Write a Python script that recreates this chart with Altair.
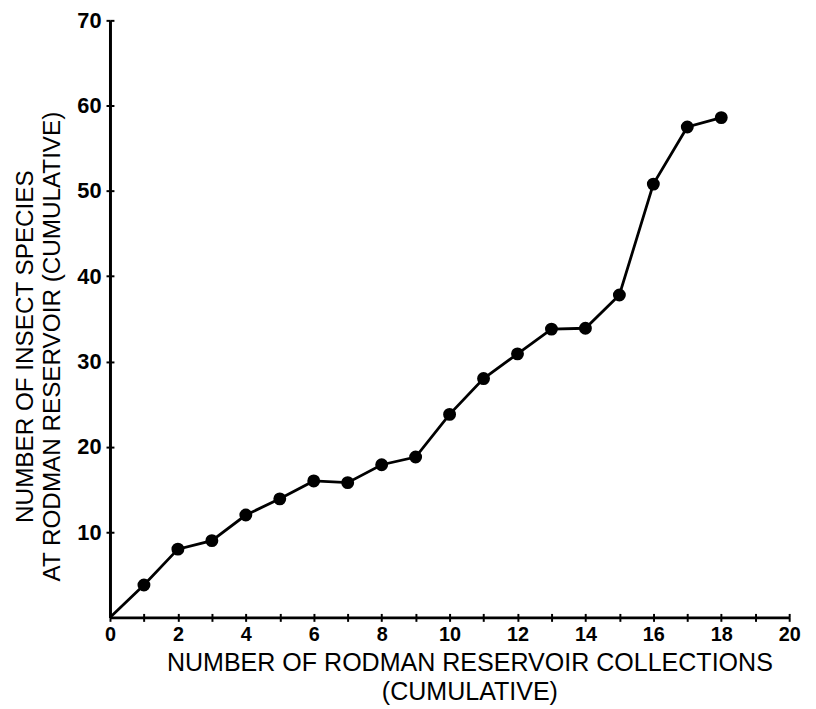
import altair as alt
import pandas as pd

# Cumulative collections (x) and cumulative insect species (y)
collections = [0, 1, 2, 3, 4, 5, 6, 7, 8, 9, 10, 11, 12, 13, 14, 15, 16, 17, 18]
species = [0, 3.8, 8.0, 9.0, 12.0, 13.9, 16.0, 15.8, 17.9, 18.8, 23.8, 28.0, 30.9, 33.8, 33.9, 37.8, 50.8, 57.5, 58.6]

x_ticks = list(range(0, 21))
y_ticks = [10, 20, 30, 40, 50, 60, 70]

x_title = ["NUMBER OF RODMAN RESERVOIR COLLECTIONS", "(CUMULATIVE)"]
y_title = ["NUMBER OF INSECT SPECIES", "AT RODMAN RESERVOIR (CUMULATIVE)"]

df = pd.DataFrame({"x": collections, "y": species})
pts = df[df["x"] > 0]

FONT = "Liberation Sans"

x_scale = alt.Scale(domain=[0, 20], nice=False, zero=True)
y_scale = alt.Scale(domain=[0, 70], nice=False, zero=True)

x_axis_main = alt.Axis(
    values=x_ticks,
    labelExpr="datum.value % 2 == 0 ? datum.label : ''",
    title=x_title,
    titleX=363, titleY=46, titleAlign="center", titleBaseline="middle",
    titleLineHeight=29, titleFont=FONT, titleFontSize=25.3, titleFontWeight="normal",
    titleColor="black",
    labelFont=FONT, labelFontSize=20, labelFontWeight="bold", labelColor="black",
    labelPadding=3, labelFlush=False,
    domainColor="black", domainWidth=3, tickColor="black", tickWidth=2, tickSize=4,
    grid=False,
)
y_axis_main = alt.Axis(
    values=y_ticks,
    title=y_title,
    titleX=-85, titleY=329, titleAngle=270, titleAlign="center", titleBaseline="middle",
    titleLineHeight=27, titleFont=FONT, titleFontSize=24.5, titleFontWeight="normal",
    titleColor="black",
    labelFont=FONT, labelFontSize=22, labelFontWeight="bold", labelColor="black",
    labelPadding=5, labelFlush=False,
    domainColor="black", domainWidth=3, tickColor="black", tickWidth=2, tickSize=4,
    grid=False,
)

x_axis_in = alt.Axis(values=x_ticks, labels=False, title=None, domain=False, offset=-4,
                     orient="bottom", tickColor="black", tickWidth=2, tickSize=4, grid=False)
y_axis_in = alt.Axis(values=y_ticks, labels=False, title=None, domain=False, offset=-4,
                     orient="left", tickColor="black", tickWidth=2, tickSize=4, grid=False)

line = alt.Chart(df).mark_line(color="black", strokeWidth=2.8).encode(
    x=alt.X("x:Q", scale=x_scale, axis=x_axis_main),
    y=alt.Y("y:Q", scale=y_scale, axis=y_axis_main),
)

points = alt.Chart(pts).mark_point(filled=True, color="black", opacity=1, size=170).encode(
    x=alt.X("x:Q", scale=x_scale, axis=x_axis_in),
    y=alt.Y("y:Q", scale=y_scale, axis=y_axis_in),
)

chart = alt.layer(line, points).resolve_axis(x="independent", y="independent").properties(
    width=686,
    height=603,
    autosize=alt.AutoSizeParams(type="none"),
    padding={"left": 103, "top": 9, "right": 19, "bottom": 85},
    background="white",
).configure_view(stroke=None)

chart.save("out.html", embed_options={"renderer": "svg", "actions": False})
